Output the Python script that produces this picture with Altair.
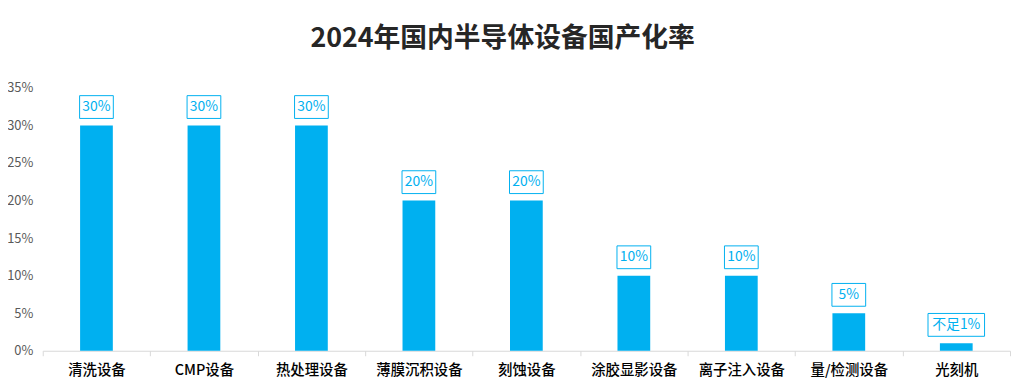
import altair as alt
import pandas as pd

categories = ["清洗设备", "CMP设备", "热处理设备", "薄膜沉积设备", "刻蚀设备",
              "涂胶显影设备", "离子注入设备", "量/检测设备", "光刻机"]
values = [30, 30, 30, 20, 20, 10, 10, 5, 1]
labels = ["30%", "30%", "30%", "20%", "20%", "10%", "10%", "5%", "不足1%"]
y_ticks = [0, 5, 10, 15, 20, 25, 30, 35]

df = pd.DataFrame({"cat": categories, "val": values, "label": labels})
df["wide"] = df["label"].str.len() > 3

FONT = "Noto Sans CJK SC"
BLUE = "#00B0F0"

x = alt.X("cat:N", sort=categories, title=None,
          scale=alt.Scale(paddingInner=0, paddingOuter=0),
          axis=alt.Axis(labelAngle=0, labelFont=FONT, labelFontSize=14.5,
                        labelColor="#000000", labelFontWeight=500, labelPadding=8,
                        tickBand="extent", tickSize=5, tickColor="#d9d9d9",
                        domainColor="#d9d9d9", grid=False))
y = alt.Y("val:Q", title=None, scale=alt.Scale(domain=[0, 35], nice=False),
          axis=alt.Axis(values=y_ticks, labelExpr="datum.value + '%'", ticks=False,
                        domain=False, grid=False, labelFont=FONT, labelFontSize=13,
                        labelColor="#595959", labelPadding=10))

base = alt.Chart(df).encode(x=x, y=y)
bars = base.mark_bar(width=33, color=BLUE)
box_narrow = base.transform_filter("!datum.wide").mark_point(
    shape="M-1,-0.676H1V0.676H-1Z", size=1156, filled=False,
    stroke=BLUE, strokeWidth=1, opacity=1, yOffset=-18.5)
box_wide = base.transform_filter("datum.wide").mark_point(
    shape="M-1,-0.404H1V0.404H-1Z", size=3249, filled=False,
    stroke=BLUE, strokeWidth=1, opacity=1, yOffset=-18.5)
text = base.mark_text(font=FONT, fontSize=14, color=BLUE, baseline="middle",
                      yOffset=-18.5).encode(text="label:N")

chart = alt.layer(bars, box_narrow, box_wide, text).properties(
    width=975, height=265,
    title=alt.TitleParams("2024年国内半导体设备国产化率", font=FONT, fontSize=27,
                          fontWeight="bold", color="#262626", anchor="middle",
                          dx=-24, offset=2, baseline="bottom"),
    autosize=alt.AutoSizeParams(type="none"),
    padding={"left": 35, "top": 79, "right": 2, "bottom": 28},
    background="white",
).configure_view(stroke=None)

chart.save("out.html", embed_options={"renderer": "svg", "actions": False})
